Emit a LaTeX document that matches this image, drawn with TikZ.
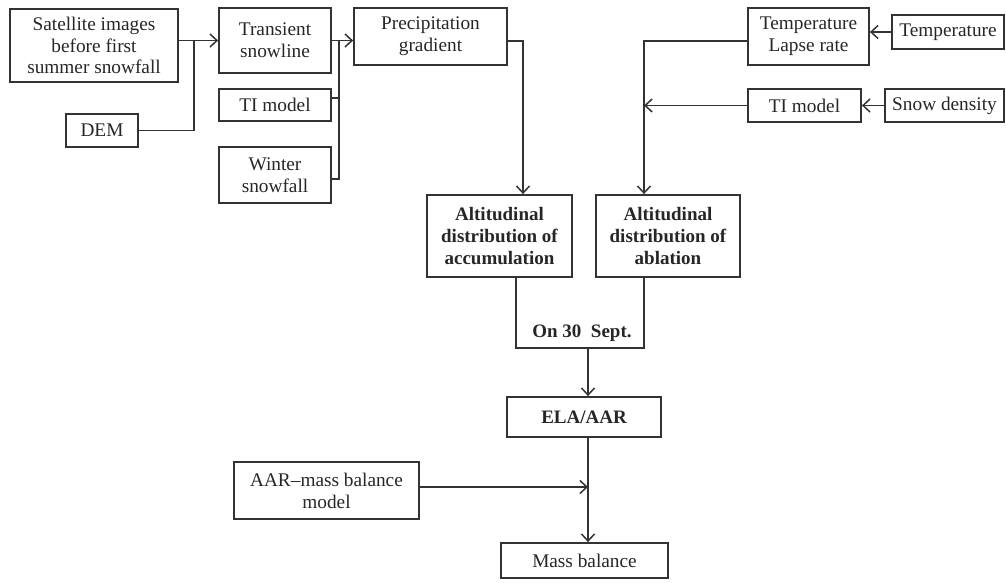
\documentclass[tikz,border=0pt]{standalone}
\usepackage{fontspec}
\setmainfont{Liberation Serif}
\usetikzlibrary{arrows.meta,calc}
\begin{document}
\begin{tikzpicture}[x=1pt,y=-1pt,
  box/.style={draw=black!80,line width=1.8pt,align=center,inner sep=1pt,
    font=\fontsize{19.3}{21.8}\selectfont,text=black!85},
  bbox/.style={box,font=\fontsize{19}{22}\selectfont\bfseries},
  link/.style={draw=black!80,line width=1.6pt},
  arr/.style={link,-{Straight Barb[length=7pt,width=13pt,line width=1.5pt]}}]
\useasboundingbox (0,0) rectangle (1006,583);
% nodes
\node[box,minimum width=168pt,minimum height=73pt] (sat) at (94,45.5) {Satellite images\\before first\\summer snowfall};
\node[box,minimum width=112pt,minimum height=65pt] (trans) at (275,40.5) {Transient\\snowline};
\node[box,minimum width=112pt,minimum height=32pt] (ti1) at (275,105) {TI model};
\node[box,minimum width=72pt,minimum height=33pt] (dem) at (102,130.5) {DEM};
\node[box,minimum width=112pt,minimum height=56pt] (wint) at (275,175) {Winter\\snowfall};
\node[box,minimum width=153pt,minimum height=57pt] (prec) at (430.5,36.5) {Precipitation\\gradient};
\node[box,minimum width=121pt,minimum height=57pt] (tlr) at (808.5,36.5) {Temperature\\Lapse rate};
\node[box,minimum width=112pt,minimum height=34pt] (temp) at (948,32) {Temperature};
\node[box,minimum width=113pt,minimum height=33pt] (ti2) at (804.5,105.5) {TI model};
\node[box,minimum width=119pt,minimum height=33pt] (snow) at (944.5,105.5) {Snow density};
\node[bbox,minimum width=145pt,minimum height=82pt] (acc) at (499.5,236) {Altitudinal\\distribution of\\accumulation};
\node[bbox,minimum width=144pt,minimum height=82pt] (abl) at (668,236) {Altitudinal\\distribution of\\ablation};
\node[bbox,minimum width=154pt,minimum height=40pt] (ela) at (584,417) {ELA/AAR};
\node[box,minimum width=185pt,minimum height=57pt] (aar) at (326.5,490.5) {AAR–mass balance\\model};
\node[box,minimum width=167pt,minimum height=35pt] (mass) at (584.5,560.5) {Mass balance};
\node[font=\fontsize{19}{22}\selectfont\bfseries,text=black!85,inner sep=0pt] (date) at (582,333) {On 30\ \ Sept.};
% junction coordinates
\coordinate (j1) at (194,40.5);
\coordinate (j2) at (339,40.5);
\coordinate (pa) at (523,41);
\coordinate (vl) at (644,41);
\coordinate (m1) at (516,348);
\coordinate (m2) at (644,348);
\coordinate (m3) at (588,348);
% connectors
\draw[arr] (sat.east |- trans.west) -- (trans.west);
\draw[link] (dem.east) -- (dem.east -| j1) -- (j1);
\draw[arr] (trans.east) -- (trans.east -| prec.west);
\draw[link] ([yshift=7pt]ti1.east) -- ([yshift=7pt]ti1.east -| j2);
\draw[link] ([yshift=-4pt]wint.east) -- ([yshift=-4pt]wint.east -| j2) -- (j2);
\draw[arr] ([yshift=-4.5pt]prec.east) -- (pa) -- (acc.north -| pa);
\draw[arr] ([yshift=-4.5pt]tlr.west) -- (vl) -- (abl.north -| vl);
\draw[arr] (ti2.west) -- (ti2.west -| vl);
\draw[arr] (temp.west) -- (temp.west -| tlr.east);
\draw[arr] (snow.west) -- (snow.west -| ti2.east);
\draw[link] (acc.south -| m1) -- (m1) -- (m2) -- (abl.south -| m2);
\draw[arr] (m3) -- (ela.north -| m3);
\draw[arr] (ela.south -| m3) -- (mass.north -| m3);
\draw[arr] ([yshift=3.5pt]aar.east) -- ([yshift=3.5pt]aar.east -| m3);
\end{tikzpicture}
\end{document}
